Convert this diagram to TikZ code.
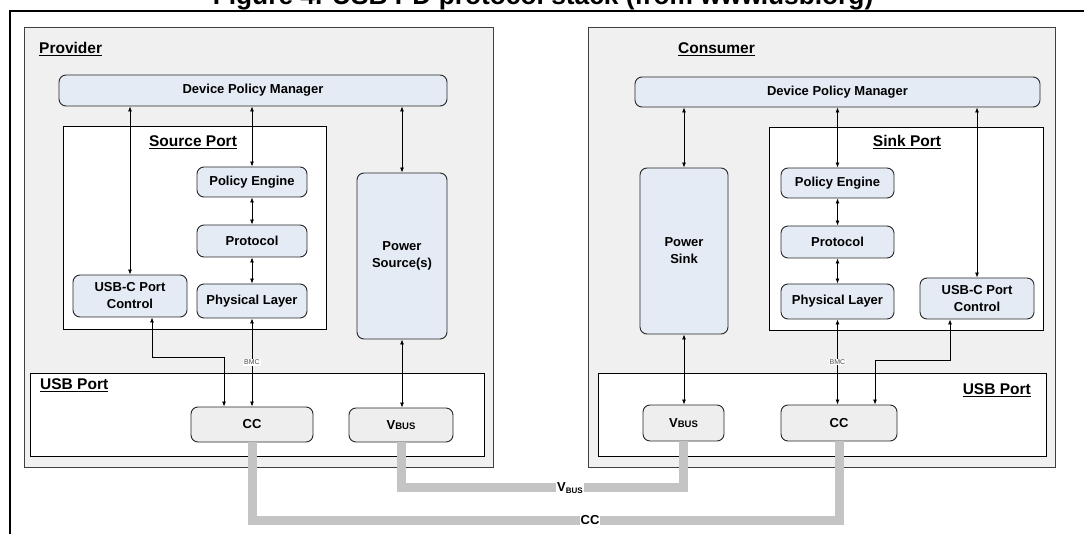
\documentclass[tikz,border=0pt]{standalone}
\usepackage{fontspec}
\setmainfont{Liberation Sans}
\usetikzlibrary{arrows.meta}

\definecolor{panelgray}{HTML}{F0F0F0}
\definecolor{dpmblue}{HTML}{E4EBF5}
\definecolor{portgray}{HTML}{EEEEEE}
\definecolor{cablegray}{HTML}{C4C4C4}

\newcommand{\vbusbox}{V{\fontsize{9.5}{10}\selectfont BUS}}

\begin{document}
\begin{tikzpicture}[x=1pt,y=-1pt,
    panel/.style={draw=black!75,fill=panelgray,line width=0.8pt,inner sep=0pt},
    frame/.style={draw=black,fill=white,line width=0.8pt,inner sep=0pt},
    block/.style={draw=black!85,fill=dpmblue,rounded corners=7pt,line width=0.9pt,inner sep=0pt,
        align=center,font=\fontsize{13}{17}\selectfont\bfseries},
    pin/.style={block,fill=portgray},
    heading/.style={font=\fontsize{15.5}{18}\selectfont\bfseries,inner sep=0pt},
    link/.style={{Latex[length=5pt,width=4pt]}-{Latex[length=5pt,width=4pt]},line width=0.8pt},
    bmc/.style={fill=white,inner sep=1pt,text=black!70,font=\fontsize{7}{8}\selectfont},
    cable/.style={draw=cablegray,line width=9pt},
    tag/.style={fill=white,inner sep=1pt,font=\fontsize{13}{15}\selectfont\bfseries},
    ]
    \useasboundingbox (0,0) rectangle (1084,534);

    \node[anchor=base,inner sep=0pt,font=\fontsize{26.3}{30}\selectfont\bfseries] (title) at (543,5)
        {Figure 4. USB PD protocol stack (from www.usb.org)};
    \draw[line width=2pt] (10,534) -- (10,11) -- (1084,11);

    % Provider
    \node[panel,minimum width=469pt,minimum height=440pt] (prov) at (258.5,247) {};
    \node[heading,anchor=west] (provT) at (39,49) {\underline{Provider}};
    \node[block,minimum width=388pt,minimum height=31pt] (dpmP) at (253,90.5) {Device Policy Manager};
    \node[frame,minimum width=263pt,minimum height=203pt] (srcP) at (194.5,227.5) {};
    \node[heading] (srcT) at (193,142) {\underline{Source Port}};
    \node[block,minimum width=110pt,minimum height=30pt] (peP) at (252,182) {Policy Engine};
    \node[block,minimum width=110pt,minimum height=32pt] (protP) at (252,241) {Protocol};
    \node[block,minimum width=110pt,minimum height=34pt] (phyP) at (252,301) {Physical Layer};
    \node[block,minimum width=114pt,minimum height=42pt] (ucP) at (130,296) {USB-C Port\\Control};
    \node[block,minimum width=90pt,minimum height=166pt] (psrc) at (402,256) {Power\\Source(s)};
    \node[frame,minimum width=454pt,minimum height=83pt] (usbP) at (257,414.5) {};
    \node[heading,anchor=west] (usbPT) at (40,385) {\underline{USB Port}};
    \node[pin,minimum width=122pt,minimum height=35pt] (ccP) at (252,424.5) {CC};
    \node[pin,minimum width=104pt,minimum height=34pt] (vbP) at (401,425) {\vbusbox};

    \draw[link] (ucP.north |- dpmP.south) -- (ucP.north);
    \draw[link] (peP.north |- dpmP.south) -- (peP.north);
    \draw[link] (psrc.north |- dpmP.south) -- (psrc.north);
    \draw[link] (peP) -- (protP);
    \draw[link] (protP) -- (phyP);
    \draw[link] (phyP.south) -- (phyP.south |- ccP.north) node[bmc,midway] {BMC};
    \draw[link] ([xshift=22pt]ucP.south) -- ++(0,40) -| ([xshift=-28pt]ccP.north);
    \draw[link] (psrc.south) -- (psrc.south |- vbP.north);

    % Consumer
    \node[panel,minimum width=467pt,minimum height=440pt] (cons) at (821.5,247) {};
    \node[heading,anchor=west] (consT) at (678,49) {\underline{Consumer}};
    \node[block,minimum width=405pt,minimum height=30pt] (dpmC) at (837.5,92) {Device Policy Manager};
    \node[frame,minimum width=274pt,minimum height=203pt] (snkC) at (906,228.5) {};
    \node[heading] (snkT) at (907,142) {\underline{Sink Port}};
    \node[block,minimum width=88pt,minimum height=166pt] (psnk) at (684,251) {Power\\Sink};
    \node[block,minimum width=113pt,minimum height=30pt] (peC) at (837.5,183) {Policy Engine};
    \node[block,minimum width=113pt,minimum height=32pt] (protC) at (837.5,242) {Protocol};
    \node[block,minimum width=113pt,minimum height=35pt] (phyC) at (837.5,301.5) {Physical Layer};
    \node[block,minimum width=114pt,minimum height=41pt] (ucC) at (977,298.5) {USB-C Port\\Control};
    \node[frame,minimum width=448pt,minimum height=83pt] (usbC) at (822,414.5) {};
    \node[heading,anchor=east] (usbCT) at (1031,390) {\underline{USB Port}};
    \node[pin,minimum width=81pt,minimum height=36pt] (vbC) at (683.5,423) {\vbusbox};
    \node[pin,minimum width=116pt,minimum height=36pt] (ccC) at (839,423) {CC};

    \draw[link] (psnk.north |- dpmC.south) -- (psnk.north);
    \draw[link] (peC.north |- dpmC.south) -- (peC.north);
    \draw[link] (ucC.north |- dpmC.south) -- (ucC.north);
    \draw[link] (peC) -- (protC);
    \draw[link] (protC) -- (phyC);
    \draw[link] (phyC.south) -- (phyC.south |- ccC.north) node[bmc,midway] {BMC};
    \draw[link] ([xshift=-27pt]ucC.south) -- ++(0,41) -| ([xshift=36pt]ccC.north);
    \draw[link] (psnk.south) -- (psnk.south |- vbC.north);

    % cables
    \draw[cable] (vbP.south) -- ++(0,45) -| (vbC.south);
    \draw[cable] (ccP.south) -- ++(0,78) -| (ccC.south);
    \node[tag] (vbusL) at (570,488) {V\raisebox{-2pt}{\fontsize{8}{9}\selectfont BUS}};
    \node[tag] (ccL) at (590,520) {CC};
\end{tikzpicture}
\end{document}
